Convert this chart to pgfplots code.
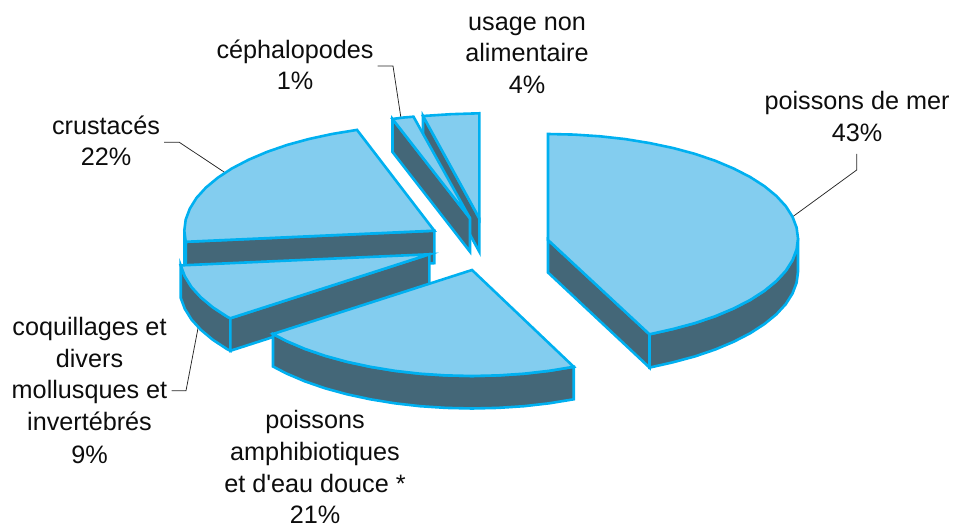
\documentclass[border=0pt]{standalone}
\usepackage{fontspec}
\setmainfont{Liberation Sans}
\newfontfamily\rawf{Liberation Sans}
\usepackage{pgfplots}
\pgfplotsset{compat=1.18}
\definecolor{topc}{HTML}{83CDEF}
\definecolor{edgec}{HTML}{00B0F0}
\definecolor{sidec}{HTML}{446778}
\tikzset{
  topf/.style={fill=topc,draw=edgec,line width=2.6bp,line join=miter,mark=none},
  sidef/.style={fill=sidec,draw=edgec,line width=2.6bp,line join=miter,mark=none},
  lead/.style={draw=black!85,line width=0.75bp,mark=none},
  lab/.style={anchor=base,inner sep=0pt,outer sep=0pt,text=black!95,font=\fontsize{25.3}{30}\selectfont}
}
\begin{document}
\begin{tikzpicture}[x=1bp,y=1bp]
\useasboundingbox (0,0) rectangle (955,529);
\begin{axis}[at={(0,0)},anchor=south west,scale only axis,width=955bp,height=529bp,
  xmin=0,xmax=955,ymin=0,ymax=529,y dir=reverse,hide axis,clip=false]
% leader lines
\addplot[lead] coordinates {(377.7,66) (393,66) (401,118.3)};
\addplot[lead] coordinates {(164,142.3) (179.3,142.3) (226,173.3)};
\addplot[lead] coordinates {(171.7,390.7) (186,390.7) (198.3,326.7)};
\addplot[lead] coordinates {(856.7,154) (856.7,170) (792.7,216.7)};
% usage non alimentaire
\addplot[sidef] coordinates {(423,116) (479.3,218.3) (479.3,251.7) (423,149)} --cycle;
\addplot[topf] coordinates {(423,116) (451,114.2) (479.3,113.3) (479.3,218.3)} --cycle;
% cephalopodes
\addplot[sidef] coordinates {(392.5,119) (470,218.3) (470,251.7) (392.5,152)} --cycle;
\addplot[topf] coordinates {(392.5,119) (403,117.6) (413.5,116.7) (470,218.3)} --cycle;
% crustaces
\addplot[sidef] coordinates {(185.7,241.8) (184.3,230.7) (184.3,263.2) (185.7,274.3)} --cycle;
\addplot[sidef] coordinates {(434.3,230.7) (185.7,241.8) (185.7,274.3) (434.3,263.2)} --cycle;
\addplot[topf] coordinates {(434.3,230.7) (185.7,241.8) (184.3,230.7) (185.7,219.6) (189.8,208.7) (196.5,197.9) (205.9,187.6) (217.8,177.7) (232,168.4) (248.5,159.8) (267,151.9) (287.3,144.9) (309.3,138.9) (332.6,133.9) (357,129.9)} --cycle;
% coquillages
\addplot[sidef] coordinates {(230.3,318.3) (227,316.6) (212.8,307.3) (200.9,297.4) (191.5,287.1) (184.8,276.3) (180.7,265.4) (180.7,297.9) (184.8,308.8) (191.5,319.6) (200.9,329.9) (212.8,339.8) (227,349.1) (230.3,350.8)} --cycle;
\addplot[sidef] coordinates {(429.3,254.3) (230.3,318.3) (230.3,350.8) (429.3,286.8)} --cycle;
\addplot[topf] coordinates {(429.3,254.3) (230.3,318.3) (227,316.6) (212.8,307.3) (200.9,297.4) (191.5,287.1) (184.8,276.3) (180.7,265.4)} --cycle;
% poissons amphibiotiques
\addplot[sidef] coordinates {(573.7,366.8) (549.3,370.8) (524,373.7) (498.1,375.4) (472,376) (445.9,375.4) (420,373.7) (394.7,370.8) (370.3,366.8) (347,361.8) (325,355.8) (304.7,348.8) (286.2,340.9) (273,334) (273,366.5) (286.2,373.4) (304.7,381.3) (325,388.3) (347,394.3) (370.3,399.3) (394.7,403.3) (420,406.2) (445.9,407.9) (472,408.5) (498.1,407.9) (524,406.2) (549.3,403.3) (573.7,399.3)} --cycle;
\addplot[topf] coordinates {(472,270) (573.7,366.8) (549.3,370.8) (524,373.7) (498.1,375.4) (472,376) (445.9,375.4) (420,373.7) (394.7,370.8) (370.3,366.8) (347,361.8) (325,355.8) (304.7,348.8) (286.2,340.9) (273,334)} --cycle;
% poissons de mer
\addplot[sidef] coordinates {(548,240) (649.5,334.3) (649.5,367.6) (548,272.5)} --cycle;
\addplot[sidef] coordinates {(798,238.5) (796.6,249.4) (792.5,260.2) (785.8,270.8) (776.4,281) (764.5,290.75) (750.3,299.9) (733.8,308.4) (715.3,316.2) (695,323.1) (673,329) (649.5,334.3) (649.5,367.6) (673,362.3) (695,356.4) (715.3,349.5) (733.8,341.7) (750.3,333.2) (764.5,324) (776.4,314.3) (785.8,304.1) (792.5,293.5) (796.6,282.7) (798,271.8)} --cycle;
\addplot[topf] coordinates {(548,240) (548,134) (574.1,134.6) (600,136.3) (625.3,139.1) (649.7,143.1) (673,148) (695,153.9) (715.3,160.8) (733.8,168.6) (750.3,177.1) (764.5,186.25) (776.4,196) (785.8,206.2) (792.5,216.8) (796.6,227.6) (798,238.5) (796.6,249.4) (792.5,260.2) (785.8,270.8) (776.4,281) (764.5,290.75) (750.3,299.9) (733.8,308.4) (715.3,316.2) (695,323.1) (673,329) (649.5,334.3)} --cycle;
% labels
\node[lab] at (axis cs:527,31) {usage non};
\node[lab] at (axis cs:527,62) {alimentaire};
\node[lab] at (axis cs:527,94) {4\%};
\node[lab] at (axis cs:295,59) {céphalopodes};
\node[lab] at (axis cs:295,90) {1\%};
\node[lab] at (axis cs:106,135) {crustacés};
\node[lab] at (axis cs:106,166) {22\%};
\node[lab] at (axis cs:857,110) {poissons de mer};
\node[lab] at (axis cs:857,142) {43\%};
\node[lab] at (axis cs:89.5,336) {coquillages et};
\node[lab] at (axis cs:89.5,368) {divers};
\node[lab] at (axis cs:89.5,399) {mollusques et};
\node[lab] at (axis cs:89.5,431) {invertébrés};
\node[lab] at (axis cs:89.5,463) {9\%};
\node[lab] at (axis cs:315,429) {poissons};
\node[lab] at (axis cs:315,460) {amphibiotiques};
\node[lab] at (axis cs:315,492) {\rawf et d'eau douce *};
\node[lab] at (axis cs:315,523) {21\%};
\end{axis}
\end{tikzpicture}
\end{document}
